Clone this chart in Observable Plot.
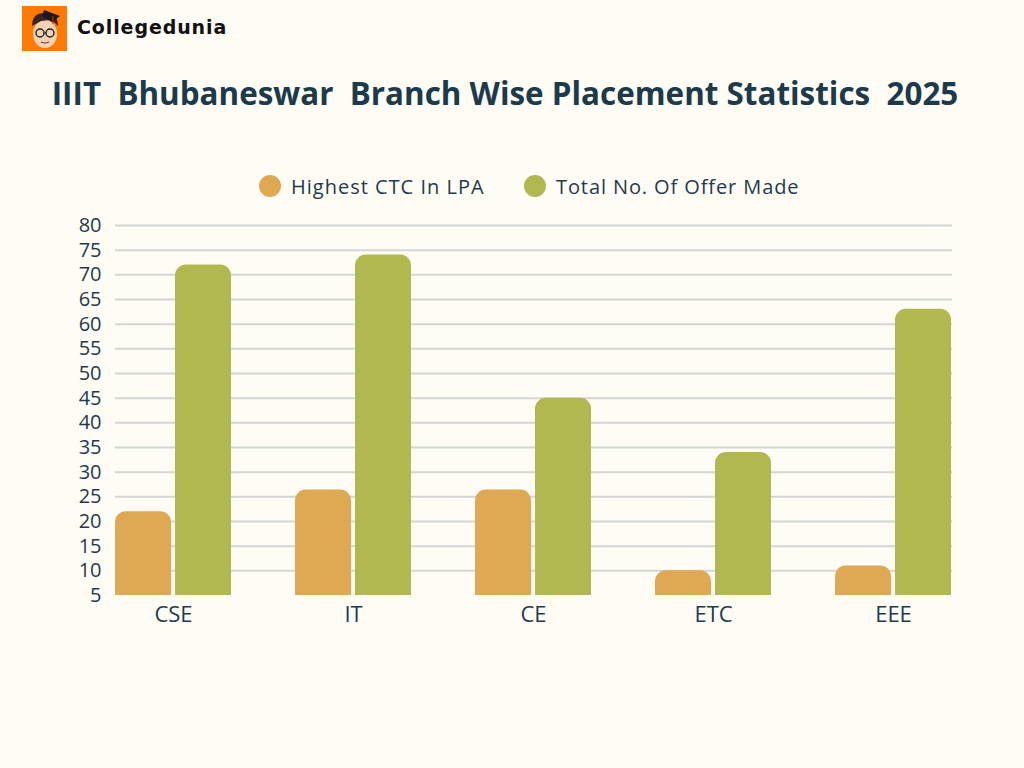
<!DOCTYPE html>
<html>
<head>
<meta charset="utf-8">
<script src="https://cdn.jsdelivr.net/npm/d3@7"></script>
<script src="https://cdn.jsdelivr.net/npm/@observablehq/plot@0.6"></script>
<style>
  html, body { margin: 0; padding: 0; background: #FFFCF5; }
  #page { position: relative; width: 1024px; height: 768px; overflow: hidden; background: #FFFCF5; }
  #logo { position: absolute; left: 22px; top: 6px; width: 45px; height: 45px; }
  #brand { position: absolute; left: 77px; top: 16px; font-family: "DejaVu Sans", sans-serif; font-weight: 700; font-size: 19px; letter-spacing: 0.9px; color: #111; }
  #title { position: absolute; left: 0; width: 1010px; top: 71px; text-align: center; white-space: pre; font-family: "Open Sans", sans-serif; font-weight: 700; font-size: 31.4px; color: #1B3A4B; }
  #legend { position: absolute; top: 172px; left: 0; width: 1024px; height: 28px; font-family: "Open Sans", sans-serif; font-size: 20px; color: #1E3A4C; }
  .item { position: absolute; top: 0; display: flex; align-items: center; height: 28px; }
  .dot { width: 22px; height: 22px; border-radius: 50%; margin-right: 10px; }
  .layer { position: absolute; left: 0; top: 0; }
</style>
</head>
<body>
<div id="page">
  <svg id="logo" viewBox="0 0 45 45">
    <rect width="45" height="45" fill="#FF7A00"/>
    <ellipse cx="23" cy="28" rx="12" ry="14" fill="#F3D2B4"/>
    <path d="M10 20 Q10 6 24 7 Q36 7 36 20 L33 17 L28 14 L19 15 L12 19 Z" fill="#3a2420"/>
    <polygon points="22,4 38,10 30,16 20,10" fill="#1a1a1a"/>
    <line x1="31" y1="10" x2="31" y2="18" stroke="#d62020" stroke-width="1"/>
    <circle cx="18" cy="27" r="4" fill="none" stroke="#222" stroke-width="1.4"/>
    <circle cx="28" cy="27" r="4" fill="none" stroke="#222" stroke-width="1.4"/>
    <line x1="22" y1="27" x2="24" y2="27" stroke="#222" stroke-width="1.2"/>
    <path d="M19 36 Q23 38 27 36" stroke="#6b3b2a" stroke-width="1.2" fill="none"/>
  </svg>
  <div id="brand">Collegedunia</div>
  <div id="title">IIIT  Bhubaneswar  Branch Wise Placement Statistics  2025</div>
  <div id="legend"></div>
  <div id="grid" class="layer"></div>
  <div id="chart" class="layer"></div>
</div>
<script>
// ---- data ----
const categories = ["CSE", "IT", "CE", "ETC", "EEE"];
const seriesNames = ["Highest CTC In LPA", "Total No. Of Offer Made"];
const highestCTC = [22, 26.4, 26.4, 10, 11];
const totalOffers = [72, 74, 45, 34, 63];
const yTicks = [5, 10, 15, 20, 25, 30, 35, 40, 45, 50, 55, 60, 65, 70, 75, 80];
const seriesColors = ["#DFA853", "#B2B850"];

const rows = [];
categories.forEach((c, i) => {
  rows.push({category: c, series: seriesNames[0], value: highestCTC[i]});
  rows.push({category: c, series: seriesNames[1], value: totalOffers[i]});
});
const baseline = yTicks[0];

// legend
const legend = document.getElementById("legend");
const legendLeft = [259, 524];
const legendSpacing = [1, 0.9];
seriesNames.forEach((s, i) => {
  const it = document.createElement("div");
  it.className = "item";
  it.style.left = legendLeft[i] + "px";
  it.innerHTML = `<span class="dot" style="background:${seriesColors[i]}"></span><span style="letter-spacing:${legendSpacing[i]}px">${s}</span>`;
  legend.appendChild(it);
});

const common = {
  width: 1024,
  height: 768,
  marginTop: 225,
  marginBottom: 173,
  marginLeft: 115,
  marginRight: 72,
  style: {background: "transparent", fontFamily: "Open Sans, sans-serif", color: "#1E3A4C"}
};
const yDomain = [yTicks[0], yTicks[yTicks.length - 1]];

// gridlines layer (continuous across groups)
const grid = Plot.plot({
  ...common,
  y: {domain: yDomain, axis: null},
  marks: [
    Plot.ruleY(yTicks.slice(1), {stroke: "#D3D6D3", strokeWidth: 2})
  ]
});
document.getElementById("grid").appendChild(grid);

const chart = Plot.plot({
  ...common,
  y: {domain: yDomain, label: null},
  fx: {domain: categories, paddingInner: 0.355, paddingOuter: 0, label: null},
  x: {domain: seriesNames, paddingInner: 0.067, paddingOuter: 0, axis: null},
  color: {domain: seriesNames, range: seriesColors},
  marks: [
    Plot.axisY({ticks: yTicks, tickSize: 0, tickPadding: 14, fontSize: 20, label: null, fill: "#1E3A4C"}),
    Plot.axisFx({anchor: "bottom", tickSize: 0, tickPadding: 11, fontSize: 22, label: null, fill: "#1E3A4C"}),
    Plot.barY(rows, {fx: "category", x: "series", y1: baseline, y2: "value", fill: "series", ry1: 11})
  ]
});
document.getElementById("chart").appendChild(chart);
</script>
</body>
</html>
